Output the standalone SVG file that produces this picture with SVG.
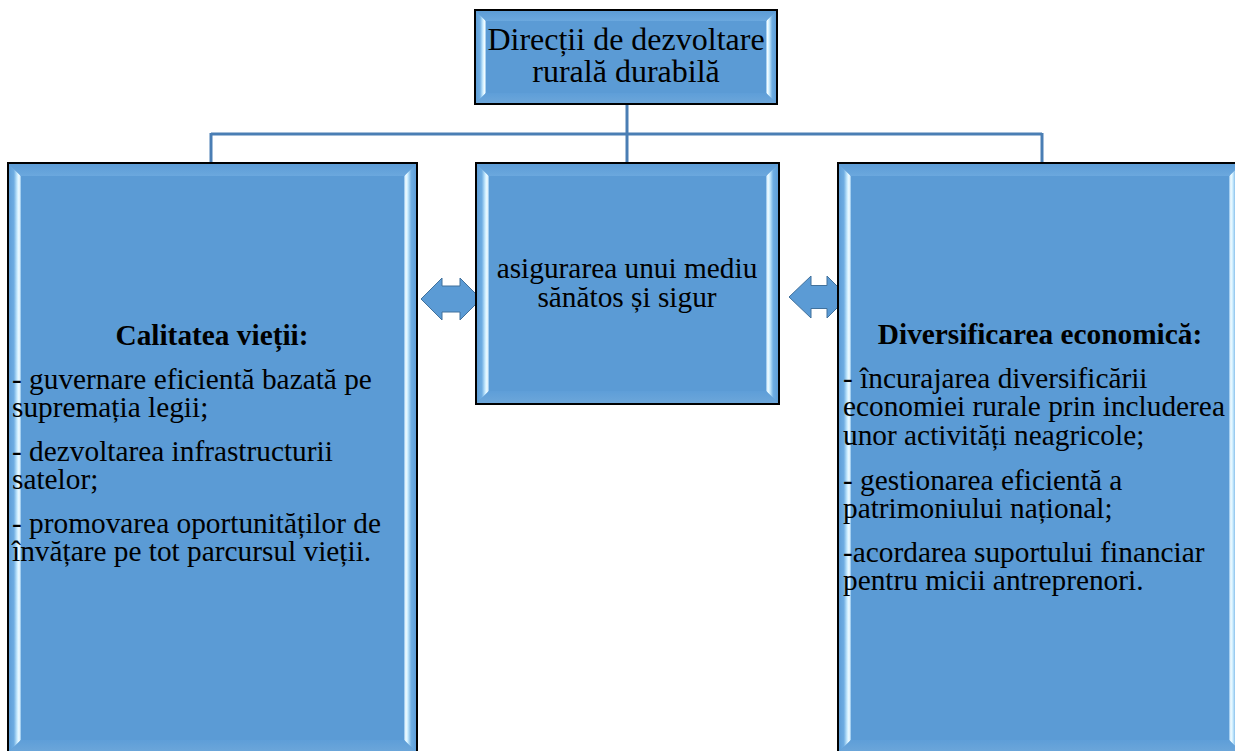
<svg xmlns="http://www.w3.org/2000/svg" width="1235" height="751" viewBox="0 0 1235 751">
<defs>
<linearGradient id="gL" x1="0" y1="0" x2="1" y2="0">
<stop offset="0" stop-color="#5B9BD5"/><stop offset="0.45" stop-color="#6EADE2"/><stop offset="0.72" stop-color="#CDEEFF"/><stop offset="0.86" stop-color="#F4FDFF"/><stop offset="1" stop-color="#86BDEA"/>
</linearGradient>
<linearGradient id="gR" x1="1" y1="0" x2="0" y2="0">
<stop offset="0" stop-color="#5B9BD5"/><stop offset="0.45" stop-color="#6EADE2"/><stop offset="0.72" stop-color="#CDEEFF"/><stop offset="0.86" stop-color="#F4FDFF"/><stop offset="1" stop-color="#86BDEA"/>
</linearGradient>
<linearGradient id="gT" x1="0" y1="0" x2="0" y2="1">
<stop offset="0" stop-color="#5B9BD5"/><stop offset="1" stop-color="#6BA8DE"/>
</linearGradient>
<linearGradient id="gB" x1="0" y1="0" x2="0" y2="1">
<stop offset="0" stop-color="#5E9ED8"/><stop offset="1" stop-color="#6DA7DA"/>
</linearGradient>
</defs>
<style>
.face{fill:#5B9BD5;}
.bl{fill:url(#gL);}
.br{fill:url(#gR);}
.bt{fill:url(#gT);}
.bb{fill:url(#gB);}
.edge{fill:none;stroke:#000;stroke-width:2;}
.conn{fill:none;stroke:#4A7EB4;stroke-width:3;}
.arr{fill:#5B9BD5;stroke:#41719C;stroke-width:1;}
text{font-family:"Liberation Serif","Times New Roman",serif;fill:#000;}
.t32{font-size:32px;}
.t29{font-size:29.33px;}
.b{font-weight:bold;}
.c{text-anchor:middle;}
</style>
<rect width="1235" height="751" fill="#fff"/>

<g id="connectors">
<line class="conn" x1="627" y1="104" x2="627" y2="163"/>
<line class="conn" x1="211" y1="134" x2="1042" y2="134"/>
<line class="conn" x1="211" y1="133" x2="211" y2="163"/>
<line class="conn" x1="1042" y1="133" x2="1042" y2="163"/>
<polygon class="arr" points="421,299 442,278 442,286 460,286 460,278 481,299 460,320 460,312 442,312 442,320"/>
<polygon class="arr" points="789,297 811,276 811,285.5 827,285.5 827,276 848,297 827,318 827,308.5 811,308.5 811,318"/>
</g>

<g id="node-title">
<rect class="face" x="475" y="10" width="302" height="94"/>
<polygon class="bl" points="475,10 486,21 486,93 475,104"/>
<polygon class="br" points="777,10 766,21 766,93 777,104"/>
<polygon class="bt" points="475,10 777,10 766,21 486,21"/>
<polygon class="bb" points="475,104 486,93 766,93 777,104"/>
<rect class="edge" x="475" y="10" width="302" height="94"/>
<text class="t32 c" x="626" y="50">Direcții de dezvoltare</text>
<text class="t32 c" x="626" y="82">rurală durabilă</text>
</g>

<g id="node-left">
<rect class="face" x="8" y="163" width="409" height="590"/>
<polygon class="bl" points="8,163 21,176 21,740 8,753"/>
<polygon class="br" points="417,163 404,176 404,740 417,753"/>
<polygon class="bt" points="8,163 417,163 404,176 21,176"/>
<polygon class="bb" points="8,753 21,740 404,740 417,753"/>
<rect class="edge" x="8" y="163" width="409" height="590"/>
<text class="t29 b c" x="212" y="345">Calitatea vieții:</text>
<text class="t29" x="12" y="389">- guvernare eficientă bazată pe</text>
<text class="t29" x="12" y="417">supremația legii;</text>
<text class="t29" x="12" y="461">- dezvoltarea infrastructurii</text>
<text class="t29" x="12" y="489">satelor;</text>
<text class="t29" x="12" y="533">- promovarea oportunităților de</text>
<text class="t29" x="12" y="561">învățare pe tot parcursul vieții.</text>
</g>

<g id="node-center">
<rect class="face" x="476" y="163" width="303" height="241"/>
<polygon class="bl" points="476,163 489,176 489,391 476,404"/>
<polygon class="br" points="779,163 766,176 766,391 779,404"/>
<polygon class="bt" points="476,163 779,163 766,176 489,176"/>
<polygon class="bb" points="476,404 489,391 766,391 779,404"/>
<rect class="edge" x="476" y="163" width="303" height="241"/>
<text class="t29 c" x="627" y="278">asigurarea unui mediu</text>
<text class="t29 c" x="627" y="307">sănătos și sigur</text>
</g>

<g id="node-right">
<rect class="face" x="838" y="163" width="404" height="590"/>
<polygon class="bl" points="838,163 851,176 851,740 838,753"/>
<polygon class="br" points="1242,163 1229,176 1229,740 1242,753"/>
<polygon class="bt" points="838,163 1242,163 1229,176 851,176"/>
<polygon class="bb" points="838,753 851,740 1229,740 1242,753"/>
<rect class="edge" x="838" y="163" width="404" height="590"/>
<text class="t29 b c" x="1040" y="344">Diversificarea economică:</text>
<text class="t29" x="843" y="388">- încurajarea diversificării</text>
<text class="t29" x="843" y="416">economiei rurale prin includerea</text>
<text class="t29" x="843" y="445">unor activități neagricole;</text>
<text class="t29" x="843" y="490">- gestionarea eficientă a</text>
<text class="t29" x="843" y="518">patrimoniului național;</text>
<text class="t29" x="843" y="562">-acordarea suportului financiar</text>
<text class="t29" x="843" y="590">pentru micii antreprenori.</text>
</g>
</svg>
